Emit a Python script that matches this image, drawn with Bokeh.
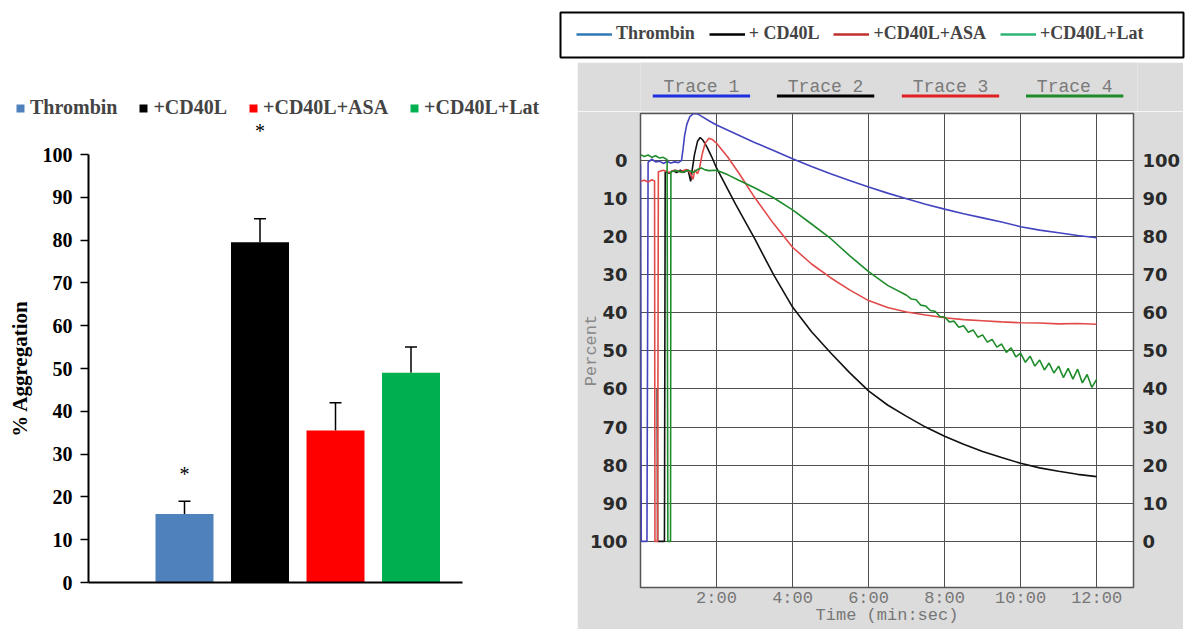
import math
from bokeh.plotting import figure
from bokeh.models import (ColumnDataSource, Range1d, FixedTicker, LinearAxis, Legend, LegendItem,
                          Whisker, TeeHead)
from bokeh.layouts import row, column, Spacer
from bokeh.embed import file_html
from bokeh.resources import INLINE

# ---------------- left panel data (bar chart) ----------------
categories = ["Thrombin", "+CD40L", "+CD40L+ASA", "+CD40L+Lat"]
mean_aggregation = [16.0, 79.5, 35.5, 49.0]
err_aggregation = [3.0, 5.5, 6.5, 6.0]
asterisk_y = [25.3, 105.6, None, None]
bar_colors = ["#4f81bd", "#000000", "#ff0000", "#00b050"]
left_y_ticks = [0, 10, 20, 30, 40, 50, 60, 70, 80, 90, 100]

# ---------------- right panel data (aggregometer traces, % aggregation) ----------------
trace_names = ["Trace 1", "Trace 2", "Trace 3", "Trace 4"]
legend_labels = ["Thrombin", "+ CD40L", "+CD40L+ASA", "+CD40L+Lat"]

t_thrombin = [0.00, 0.02, 0.17, 0.20, 0.30, 0.40, 0.50, 0.60, 0.70, 0.80, 0.90, 1.00, 1.08, 1.12,
              1.16, 1.22, 1.30, 1.40, 1.50, 1.60, 1.80, 2.00, 2.50, 3.00, 3.50, 4.00, 4.50, 5.00,
              5.50, 6.00, 6.50, 7.00, 7.50, 8.00, 8.50, 9.00, 9.50, 10.00, 10.50, 11.00, 11.50, 12.00]
a_thrombin = [99.0, 0.0, 0.0, 99.5, 100.3, 99.6, 99.8, 99.2, 99.7, 99.3, 99.6, 99.4, 100.0, 103.0,
              106.5, 109.5, 111.5, 112.3, 112.2, 111.6, 110.4, 109.3, 107.0, 104.7, 102.6, 100.4, 98.4, 96.5,
              94.7, 93.0, 91.4, 89.9, 88.5, 87.2, 86.0, 84.9, 83.8, 82.6, 81.7, 81.0, 80.3, 79.7]

t_cd40l = [0.44, 0.45, 0.63, 0.65, 0.75, 0.85, 0.95, 1.05, 1.15, 1.25, 1.32, 1.36, 1.42, 1.50,
           1.57, 1.65, 1.75, 1.87, 2.00, 2.50, 3.00, 3.50, 4.00, 4.50, 5.00, 5.50, 6.00, 6.50,
           7.00, 7.50, 8.00, 8.50, 9.00, 9.50, 10.00, 10.50, 11.00, 11.50, 12.00]
a_cd40l = [40.0, 0.0, 0.0, 97.0, 96.6, 97.3, 96.8, 97.4, 96.9, 97.5, 94.5, 97.5, 101.5, 105.0,
           106.0, 105.2, 103.5, 101.0, 98.0, 88.5, 79.5, 70.0, 61.5, 55.0, 49.5, 44.3, 39.5, 35.8,
           32.8, 30.0, 27.6, 25.5, 23.6, 22.0, 20.5, 19.3, 18.4, 17.6, 17.0]

t_asa = [0.00, 0.10, 0.20, 0.30, 0.37, 0.38, 0.45, 0.47, 0.60, 0.75, 0.90, 1.05, 1.20, 1.30,
         1.38, 1.43, 1.50, 1.55, 1.62, 1.70, 1.80, 1.90, 2.00, 2.30, 2.60, 3.00, 3.50, 4.00,
         4.50, 5.00, 5.50, 6.00, 6.50, 7.00, 7.50, 8.00, 8.50, 9.00, 9.50, 10.00, 10.50, 11.00,
         11.50, 12.00]
a_asa = [94.5, 94.8, 94.3, 94.9, 94.6, 0.0, 0.0, 97.0, 97.4, 96.8, 97.5, 97.0, 97.6, 96.9,
         95.0, 97.5, 96.5, 97.8, 101.5, 104.5, 105.8, 105.4, 104.5, 100.8, 96.5, 90.3, 83.4, 77.2,
         72.8, 69.2, 66.0, 63.2, 61.4, 60.2, 59.4, 58.7, 58.2, 57.9, 57.6, 57.4, 57.3, 57.1,
         57.2, 57.0]

t_lat = [0.00, 0.10, 0.20, 0.30, 0.40, 0.50, 0.60, 0.70, 0.72, 0.79, 0.80, 0.95, 1.10, 1.25,
         1.40, 1.50, 1.60, 1.70, 1.80, 2.00, 2.30, 2.60, 3.00, 3.50, 4.00, 4.50, 5.00, 5.50,
         6.00, 6.50, 7.000, 7.125, 7.250, 7.375, 7.500, 7.625, 7.750, 7.875, 8.000, 8.125, 8.250,
         8.375, 8.500, 8.625, 8.750, 8.875, 9.000, 9.125, 9.250, 9.375, 9.500, 9.625, 9.750,
         9.875, 10.000, 10.125, 10.250, 10.375, 10.500, 10.625, 10.750, 10.875, 11.000, 11.125,
         11.250, 11.375, 11.500, 11.625, 11.750, 11.875, 12.000]
a_lat = [101.5, 101.0, 101.4, 100.8, 101.2, 100.6, 100.8, 100.2, 0.0, 0.0, 97.0, 97.3, 96.8, 97.4,
         96.9, 97.6, 98.0, 97.5, 97.3, 97.4, 96.2, 94.7, 92.8, 90.2, 87.0, 83.3, 79.5, 75.0,
         70.8, 67.2, 64.6, 63.6, 63.4, 62.0, 61.8, 60.6, 60.4, 59.0, 58.9, 57.6, 57.8,
         56.2, 56.6, 54.9, 55.5, 53.6, 54.2, 52.3, 53.0, 51.0, 51.8, 49.6, 50.8,
         48.4, 49.4, 47.0, 48.6, 46.0, 47.6, 45.0, 46.8, 44.2, 46.0, 43.0,
         45.4, 42.6, 45.2, 41.6, 43.8, 40.4, 42.5]

trace_colors = ["#4444c0", "#111111", "#e24a4a", "#1e8c2a"]
underline_colors = ["#1f2fe0", "#000000", "#e02020", "#1f8a2a"]
legend_line_colors = ["#2f78b4", "#000000", "#c0302c", "#2db477"]
right_y_ticks = [0, 10, 20, 30, 40, 50, 60, 70, 80, 90, 100]
time_ticks = [2, 4, 6, 8, 10, 12]
time_tick_labels = ["2:00", "4:00", "6:00", "8:00", "10:00", "12:00"]
trace_label_x = [1.59, 4.83, 8.09, 11.33]

SERIF = "Liberation Serif"
MONO = "Liberation Mono"
GRAY = "#dcdcdc"

# ====================== LEFT: bar chart ======================
X0, X1 = -0.2715, 4.682          # data range of the bar frame (88 .. 462 px)
PX = 374 / (X1 - X0)             # px per x unit
PY = 428 / 100.0                 # px per y unit

xs = [i + 1 for i in range(len(categories))]
src = ColumnDataSource(dict(x=xs, top=mean_aggregation, cat=categories, color=bar_colors,
                            upper=[m + e for m, e in zip(mean_aggregation, err_aggregation)],
                            lower=mean_aggregation))
ast_low = ColumnDataSource(dict(x=[xs[i] for i, v in enumerate(asterisk_y) if v is not None and v <= 100],
                                y=[v for v in asterisk_y if v is not None and v <= 100]))
ast_high = ColumnDataSource(dict(x=[xs[i] for i, v in enumerate(asterisk_y) if v is not None and v > 100],
                                 y=[v for v in asterisk_y if v is not None and v > 100]))

# top strip (legend + asterisks above 100), same coordinate system continued upwards
pLL = figure(width=555, height=142, output_backend="svg", toolbar_location=None,
             x_range=Range1d(X0 - 88 / PX, X1 + 93 / PX),
             y_range=Range1d(100 + 12 / PY, 100 + 154 / PY),
             x_axis_type=None, y_axis_type=None, outline_line_color=None, frame_align=False,
             min_border_left=0, min_border_right=0, min_border_top=0, min_border_bottom=0)
barsLL = pLL.vbar(x="x", top="top", bottom=0, width=0.768, fill_color="color", line_color=None, source=src)
pLL.text(x="x", y="y", text={"value": "*"}, source=ast_high, text_align="center", text_baseline="middle",
         text_font={"value": SERIF}, text_font_size="20px", text_color="black")
legL = Legend(items=[LegendItem(label=c, renderers=[barsLL], index=i) for i, c in enumerate(categories)],
              orientation="horizontal", location=(15, 23), padding=0, margin=0, spacing=21,
              glyph_width=10, glyph_height=10, label_standoff=5,
              label_text_font=SERIF, label_text_font_style="bold", label_text_font_size="20px",
              border_line_color=None, background_fill_alpha=0)
pLL.add_layout(legL)

pL = figure(width=555, height=487, x_range=Range1d(X0, X1), y_range=Range1d(0, 100),
            output_backend="svg", toolbar_location=None, frame_align=False,
            min_border_left=88, min_border_right=93, min_border_top=12, min_border_bottom=47)
pL.grid.visible = False
pL.outline_line_color = None
pL.vbar(x="x", top="top", bottom=0, width=0.768, fill_color="color", line_color=None, source=src)
pL.add_layout(Whisker(base="x", upper="upper", lower="lower", source=src, dimension="height",
                      line_color="black", line_width=1.5,
                      upper_head=TeeHead(size=12, line_color="black", line_width=1.5), lower_head=None))
pL.text(x="x", y="y", text={"value": "*"}, source=ast_low, text_align="center", text_baseline="middle",
        text_font={"value": SERIF}, text_font_size="20px", text_color="black")

pL.yaxis.ticker = FixedTicker(ticks=left_y_ticks)
pL.yaxis.axis_label = "% Aggregation"
pL.yaxis.axis_label_text_font = SERIF
pL.yaxis.axis_label_text_font_style = "bold"
pL.yaxis.axis_label_text_font_size = "21px"
pL.yaxis.axis_label_text_color = "black"
pL.yaxis.axis_label_standoff = 8
pL.yaxis.major_label_text_font = SERIF
pL.yaxis.major_label_text_font_style = "bold"
pL.yaxis.major_label_text_font_size = "20px"
pL.yaxis.major_label_text_color = "black"
pL.yaxis.major_label_standoff = 8
pL.yaxis.major_tick_out = 8
pL.yaxis.major_tick_in = 0
pL.yaxis.major_tick_line_width = 1.5
pL.yaxis.minor_tick_line_color = None
pL.yaxis.axis_line_width = 2
pL.yaxis.axis_line_color = "black"

pL.xaxis.ticker = FixedTicker(ticks=[])
pL.xaxis.major_tick_line_color = None
pL.xaxis.minor_tick_line_color = None
pL.xaxis.axis_line_width = 2
pL.xaxis.axis_line_color = "black"

# ====================== RIGHT: legend box ======================
pG = figure(width=634, height=62, output_backend="svg", toolbar_location=None,
            x_axis_type=None, y_axis_type=None, x_range=Range1d(0, 1), y_range=Range1d(0, 1),
            min_border_left=5, min_border_right=6, min_border_top=12, min_border_bottom=5,
            outline_line_color="black", outline_line_width=2, frame_align=False)
leg_renderers = [pG.line(x=[0, 1], y=[-5, -5], line_color=c, line_width=2.5) for c in legend_line_colors]
legR = Legend(items=[LegendItem(label=l, renderers=[r]) for l, r in zip(legend_labels, leg_renderers)],
              orientation="horizontal", location=(16, 13), padding=0, margin=0, spacing=14,
              glyph_width=36, label_standoff=4,
              label_text_font=SERIF, label_text_font_style="bold", label_text_font_size="18px",
              border_line_color=None, background_fill_alpha=0)
pG.add_layout(legR)

# ====================== RIGHT: trace header strip ======================
xr = Range1d(0, 12.97)
pT = figure(width=606, height=49, output_backend="svg", toolbar_location=None,
            x_axis_type=None, y_axis_type=None, x_range=xr, y_range=Range1d(0, 49),
            min_border_left=63, min_border_right=46, min_border_top=0, min_border_bottom=0,
            background_fill_color=GRAY, border_fill_color=GRAY, outline_line_color=None,
            frame_align=False)
hdr = ColumnDataSource(dict(x=trace_label_x, name=trace_names, c=underline_colors,
                            l=[v - 1.27 for v in trace_label_x], r=[v + 1.27 for v in trace_label_x]))
pT.text(x="x", y=25, text="name", source=hdr, text_align="center", text_baseline="middle",
        text_font={"value": MONO}, text_font_size="18px", text_color="#7a7a7a")
pT.quad(left="l", right="r", bottom=14, top=17, fill_color="c", line_color=None, source=hdr)

# ====================== RIGHT: aggregometer chart ======================
pR = figure(width=606, height=518, x_range=xr, y_range=Range1d(-12.1, 112.3),
            output_backend="svg", toolbar_location=None, frame_align=False,
            min_border_left=63, min_border_right=46, min_border_top=2, min_border_bottom=42,
            background_fill_color="white", border_fill_color=GRAY,
            outline_line_color="#555555", outline_line_width=1.5)

pR.add_layout(LinearAxis(), "right")
for ax in pR.yaxis:
    ax.ticker = FixedTicker(ticks=right_y_ticks)
    ax.axis_line_color = None
    ax.major_tick_line_color = None
    ax.minor_tick_line_color = None
    ax.major_label_text_font = "DejaVu Sans"
    ax.major_label_text_font_style = "bold"
    ax.major_label_text_font_size = "18px"
    ax.major_label_text_color = "#2a2a2a"
pR.yaxis[0].major_label_overrides = {v: str(100 - v) for v in right_y_ticks}
pR.yaxis[0].major_label_standoff = 7
pR.yaxis[0].axis_label = "Percent"
pR.yaxis[0].axis_label_standoff = -14
pR.yaxis[0].axis_label_text_font = MONO
pR.yaxis[0].axis_label_text_font_style = "normal"
pR.yaxis[0].axis_label_text_font_size = "17px"
pR.yaxis[0].axis_label_text_color = "#888888"
pR.yaxis[1].major_label_standoff = 3

pR.xaxis.ticker = FixedTicker(ticks=time_ticks)
pR.xaxis.major_label_overrides = {t: l for t, l in zip(time_ticks, time_tick_labels)}
pR.xaxis.axis_line_color = None
pR.xaxis.major_tick_line_color = None
pR.xaxis.minor_tick_line_color = None
pR.xaxis.major_label_text_font = MONO
pR.xaxis.major_label_text_font_size = "17px"
pR.xaxis.major_label_text_color = "#777777"
pR.xaxis.major_label_standoff = -5
pR.xaxis.axis_label = "Time (min:sec)"
pR.xaxis.axis_label_standoff = -5
pR.xaxis.axis_label_text_font = MONO
pR.xaxis.axis_label_text_font_style = "normal"
pR.xaxis.axis_label_text_font_size = "17px"
pR.xaxis.axis_label_text_color = "#777777"

pR.xgrid.ticker = FixedTicker(ticks=time_ticks)
pR.ygrid.ticker = FixedTicker(ticks=right_y_ticks)
pR.grid.grid_line_color = "#505050"
pR.grid.grid_line_width = 1
pR.grid.grid_line_alpha = 1

for t, a, c in [(t_thrombin, a_thrombin, trace_colors[0]), (t_cd40l, a_cd40l, trace_colors[1]),
                (t_asa, a_asa, trace_colors[2]), (t_lat, a_lat, trace_colors[3])]:
    pR.line(x="t", y="a", source=ColumnDataSource(dict(t=t, a=a)), line_color=c, line_width=1.6)

layout = row(column(pLL, pL),
             column(pG, row(Spacer(width=22, height=567), column(pT, pR), Spacer(width=6, height=567))))

open("out.html", "w").write(file_html(layout, INLINE))
